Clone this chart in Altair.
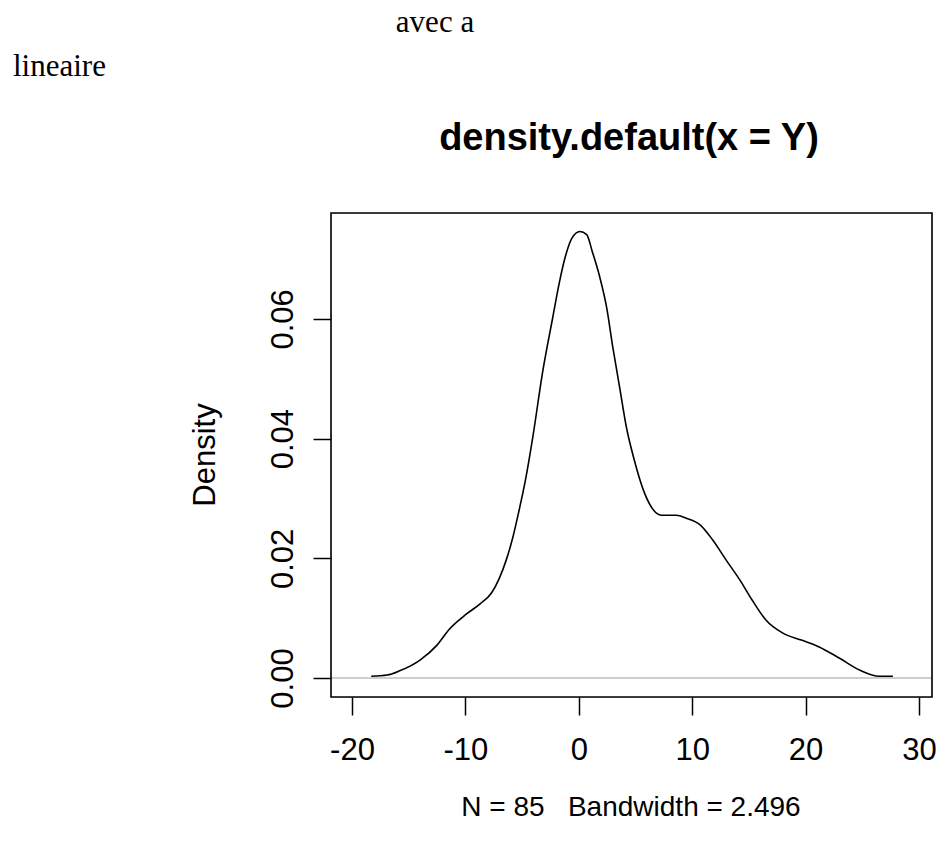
import altair as alt
import pandas as pd

# density curve
xs = [-18.3, -16.9, -15.8, -14.0, -12.5, -11.4, -9.9, -8.7, -7.7, -7.0, -6.4, -5.8, -5.3, -4.7,
      -4.05, -3.2, -2.3, -1.7, -1.2, -0.6, 0.1, 0.7, 1.2, 1.85, 2.45, 3.0, 3.6, 4.2, 4.9, 5.8,
      7.3, 8.6, 9.5, 10.7, 11.8, 13.0, 14.2, 15.3, 16.5, 18.0, 19.7, 21.2, 23.0, 24.8, 26.5, 27.7]
ys = [0.0003, 0.0005, 0.0012, 0.0030, 0.0055, 0.0082, 0.0107, 0.0124, 0.0142, 0.0167, 0.0197,
      0.0236, 0.0277, 0.0331, 0.0403, 0.0510, 0.0602, 0.0662, 0.0703, 0.0735, 0.0746, 0.0741,
      0.0712, 0.0670, 0.0620, 0.0553, 0.0486, 0.0419, 0.0364, 0.0309, 0.0272, 0.0272, 0.0267,
      0.0256, 0.0231, 0.0197, 0.0164, 0.0130, 0.0097, 0.0075, 0.0063, 0.0052, 0.0033, 0.0013,
      0.0003, 0.0003]

x_ticks = [-20, -10, 0, 10, 20, 30]
y_ticks = [0.00, 0.02, 0.04, 0.06]

title_text = "density.default(x = Y)"
sub_text = "N = 85\u00a0\u00a0\u00a0Bandwidth = 2.496"
ylab_text = "Density"
top_text = "avec a"
left_text = "lineaire"

df = pd.DataFrame({"x": xs, "y": ys})

W, H = 601, 484
xscale = alt.Scale(domain=[-21.85, 31.15], nice=False, zero=False)
yscale = alt.Scale(domain=[-0.00317, 0.0777], nice=False, zero=False)

xaxis = alt.Axis(values=x_ticks, title=None, grid=False, domain=False, tickSize=18,
                 tickColor="black", tickWidth=1.5, labelFont="Liberation Sans",
                 labelFontSize=31, labelColor="black", labelPadding=20,
                 labelExpr="datum.value < 0 ? '-' + abs(datum.value) : '' + datum.value")
yaxis = alt.Axis(values=y_ticks, title=None, grid=False, domain=False, tickSize=18,
                 tickColor="black", tickWidth=1.5, labelFont="Liberation Sans",
                 labelFontSize=31, labelColor="black", labelPadding=21, format=".2f",
                 labelAngle=270, labelAlign="center", labelBaseline="alphabetic")

zero = alt.Chart(pd.DataFrame({"y": [0.0]})).mark_rule(color="#bebebe", strokeWidth=1.6).encode(
    y=alt.Y("y:Q", scale=yscale, axis=yaxis),
    x=alt.value(0), x2=alt.value(W),
)

curve = alt.Chart(df).mark_line(color="black", strokeWidth=1.6, interpolate="monotone").encode(
    x=alt.X("x:Q", scale=xscale, axis=xaxis),
    y=alt.Y("y:Q", scale=yscale, axis=yaxis),
)

frame = alt.Chart(pd.DataFrame({"a": [0]})).mark_rect(
    fill=None, fillOpacity=0, stroke="black", strokeWidth=1.6).encode(
    x=alt.value(0), x2=alt.value(W), y=alt.value(0), y2=alt.value(H))

def txt(s, x, y, size, font="Liberation Sans", weight="normal", align="center", angle=0):
    return alt.Chart(pd.DataFrame({"t": [s]})).mark_text(
        font=font, fontSize=size, fontWeight=weight, align=align, baseline="alphabetic",
        angle=angle, color="black").encode(text="t:N", x=alt.value(x), y=alt.value(y))

title = txt(title_text, 298, -63, 38, weight="bold")
sub = txt(sub_text, 300, 603, 28)
ylab = txt(ylab_text, -116, 242, 31, angle=270)
t1 = txt(top_text, 104, -181, 31, font="Liberation Serif")
t2 = txt(left_text, -318, -137, 31, font="Liberation Serif", align="left")

chart = alt.layer(zero, curve, frame, title, sub, ylab, t1, t2).properties(
    width=W, height=H,
    autosize="none",
    padding={"left": 331, "top": 213, "right": 7, "bottom": 157},
).configure_view(stroke=None).configure(background="white")

chart.save("out.html", embed_options={"renderer": "svg", "actions": False})
